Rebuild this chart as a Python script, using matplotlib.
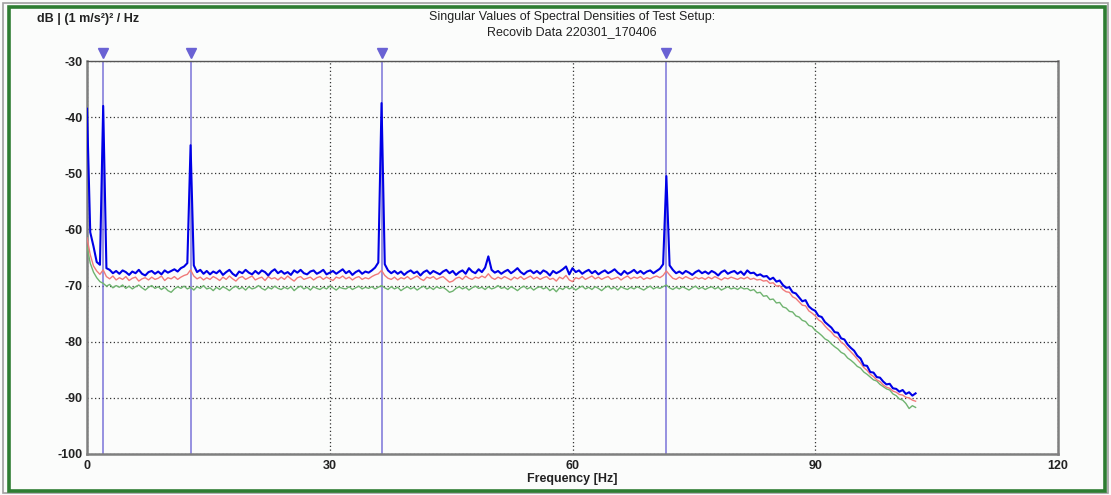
import numpy as np
import matplotlib
matplotlib.use("Agg")
import matplotlib.pyplot as plt
from matplotlib.patches import Rectangle
import matplotlib.transforms as mtransforms

# spectral lines every 0.4 Hz, 0 .. 102.4 Hz
DF = 0.4

blue = [
    -38.5, -60.5, -63.0, -65.8, -66.3, -38.0, -66.9, -67.2, -67.8, -67.4,
    -67.9, -67.3, -67.6, -68.1, -67.5, -67.8, -67.2, -67.9, -68.2, -67.6,
    -67.4, -67.9, -67.5, -68.0, -67.3, -67.7, -67.4, -67.1, -67.5, -66.9,
    -66.6, -66.0, -45.0, -66.4, -67.6, -67.2, -67.9, -67.4, -68.0, -67.5,
    -67.8, -67.3, -68.1, -67.6, -67.2, -67.9, -68.3, -67.5, -67.8, -67.2,
    -67.7, -68.0, -67.4, -67.9, -67.3, -67.6, -68.2, -67.5, -67.1, -67.8,
    -67.4, -67.9, -67.6, -68.1, -67.3, -67.7, -67.2, -67.8, -68.0, -67.5,
    -67.3, -67.9, -67.6, -67.2, -68.0, -67.7, -67.4, -67.9, -67.5, -67.1,
    -67.8, -67.4, -68.1, -67.6, -67.3, -67.9, -67.5, -67.7, -67.3, -66.8,
    -65.9, -37.5, -66.2, -67.3, -67.8, -67.4, -67.9, -67.5, -68.1, -67.6,
    -67.3, -67.8, -67.5, -68.2, -67.6, -67.3, -67.9, -67.4, -67.7, -68.0,
    -67.5, -67.2, -67.8, -67.4, -68.1, -67.6, -67.3, -67.9, -66.9, -67.5,
    -67.8, -67.1, -67.6, -66.8, -64.8, -67.2, -67.7, -67.4, -67.9, -67.5,
    -67.2, -67.8, -67.4, -66.9, -67.6, -68.0, -67.5, -67.3, -67.8, -67.4,
    -67.9, -67.3, -67.6, -68.2, -67.4, -67.8, -67.5, -67.1, -66.6, -68.0,
    -66.9, -67.6, -67.3, -67.9, -67.5, -67.2, -67.8, -67.4, -68.0, -67.6,
    -67.3, -67.8, -67.5, -67.1, -67.7, -68.1, -67.4, -67.9, -67.6, -67.2,
    -67.8, -67.4, -67.9, -67.5, -67.3, -67.8, -67.4, -67.0, -66.2, -50.5,
    -66.4, -67.2, -67.8, -67.5, -67.9, -67.4, -67.7, -68.1, -67.6, -67.3,
    -67.8, -67.5, -67.9, -67.4, -67.7, -68.2, -67.6, -67.3, -67.9, -67.6,
    -67.4, -67.9, -67.5, -68.1, -67.3, -67.8, -67.7, -68.2, -68.0, -68.4,
    -68.3, -68.9, -68.6, -69.3, -69.1, -69.9, -70.4, -70.3, -71.2, -71.4,
    -72.1, -72.8, -72.6, -73.7, -74.2, -74.5, -75.4, -75.6, -76.5, -77.0,
    -77.5, -78.3, -78.4, -79.4, -79.6, -80.5, -81.1, -81.6, -82.5, -83.0,
    -84.2, -84.3, -85.4, -85.5, -86.3, -86.4, -87.1, -87.6, -87.5, -88.3,
    -88.4, -88.9, -88.6, -89.3, -89.0, -89.6, -89.2,
]

red = [
    -61.5, -64.5, -66.5, -67.4, -68.0, -67.2, -68.4, -68.8, -68.3, -69.0,
    -68.6, -68.9, -68.4, -69.1, -68.7, -68.5, -69.2, -68.8, -68.6, -69.0,
    -68.5, -68.9, -68.7, -68.3, -69.1, -68.6, -68.8, -68.4, -68.9, -68.5,
    -68.2, -68.0, -67.2, -68.3, -68.8, -68.5, -69.0, -68.6, -68.9, -68.4,
    -68.7, -69.1, -68.5, -68.9, -68.3, -68.8, -69.2, -68.6, -68.4, -68.9,
    -68.6, -68.3, -69.0, -68.7, -68.5, -69.1, -68.4, -68.8, -68.6, -69.0,
    -68.5, -68.9, -68.3, -68.8, -69.2, -68.6, -68.4, -68.9, -68.7, -68.5,
    -69.0, -68.6, -68.4, -68.9, -68.5, -68.8, -69.1, -68.5, -68.7, -68.3,
    -68.8, -68.5, -69.0, -68.6, -68.4, -68.9, -68.6, -68.8, -68.4, -68.1,
    -67.9, -67.3, -68.2, -68.7, -68.9, -68.5, -69.0, -68.6, -68.8, -68.4,
    -68.9, -68.6, -68.3, -68.8, -69.1, -68.5, -68.7, -68.4, -68.9, -68.6,
    -68.4, -68.9, -69.4, -69.2, -68.7, -68.5, -68.9, -68.3, -68.7, -68.9,
    -68.5, -68.7, -68.3, -68.6, -67.9, -68.6, -68.9, -68.5, -68.8, -68.4,
    -68.7, -69.0, -68.5, -68.8, -68.4, -68.9, -68.6, -68.3, -68.8, -68.5,
    -68.9, -68.6, -68.4, -68.9, -68.7, -69.2, -68.5, -68.8, -68.2, -69.0,
    -69.3, -68.6, -68.8, -68.4, -68.9, -68.6, -68.3, -68.8, -68.5, -68.9,
    -68.6, -68.4, -68.9, -68.7, -68.5, -69.0, -68.6, -68.3, -68.8, -68.5,
    -68.7, -68.4, -68.9, -68.6, -68.8, -68.5, -68.3, -68.6, -68.2, -67.4,
    -68.1, -68.7, -68.9, -68.5, -68.8, -68.4, -68.7, -68.9, -68.5, -68.8,
    -68.6, -68.9, -68.5, -68.8, -68.4, -68.7, -69.0, -68.6, -68.8, -68.5,
    -68.7, -68.9, -68.6, -68.8, -68.5, -68.9, -68.7, -69.0, -68.9, -69.2,
    -69.1, -69.6, -69.5, -70.1, -70.0, -70.7, -71.1, -71.2, -72.0, -72.3,
    -72.9, -73.5, -73.6, -74.5, -74.9, -75.4, -76.1, -76.5, -77.2, -77.8,
    -78.3, -79.0, -79.3, -80.1, -80.5, -81.2, -81.8, -82.4, -83.1, -83.8,
    -84.6, -85.1, -85.8, -86.2, -86.8, -87.1, -87.7, -88.1, -88.3, -88.8,
    -89.0, -89.4, -89.5, -89.9, -90.0, -90.4, -90.6,
]

green = [
    -63.0, -66.0, -67.6, -68.6, -69.3, -69.6, -70.1, -69.8, -70.4, -70.0,
    -70.3, -69.9, -70.5, -70.1, -70.6, -70.2, -69.9, -70.4, -70.8, -70.3,
    -70.0, -70.5, -70.2, -70.7, -70.3, -70.9, -71.2, -70.6, -70.2, -70.5,
    -70.1, -70.6, -70.3, -70.8, -70.2, -70.5, -70.0, -70.6, -70.4, -70.9,
    -70.3, -70.7, -70.2, -70.5, -70.9, -70.4, -70.1, -70.6, -70.3, -70.8,
    -70.2, -70.6, -70.4, -70.0, -70.5, -70.8, -70.3, -70.6, -70.1, -70.5,
    -70.7, -70.3, -70.6, -70.2, -70.9, -70.4, -70.1, -70.6, -70.3, -70.8,
    -70.2, -70.5, -70.7, -70.3, -70.6, -70.1, -70.4, -70.8, -70.3, -70.5,
    -70.6, -70.2, -70.7, -70.4, -70.1, -70.6, -70.3, -70.5, -70.2, -70.6,
    -70.3, -70.0, -70.4, -70.7, -70.2, -70.6, -70.3, -70.9, -70.5, -70.2,
    -70.6, -70.3, -70.8, -70.4, -70.1, -70.6, -70.3, -70.7, -70.2, -70.5,
    -70.3, -70.7, -71.2, -71.0, -70.5, -70.2, -70.6, -70.3, -70.8, -70.4,
    -70.1, -70.5, -70.3, -70.7, -70.2, -70.6, -70.4, -70.0, -70.5, -70.3,
    -70.7, -70.2, -70.5, -70.9, -70.4, -70.1, -70.6, -70.3, -70.8, -70.4,
    -70.2, -70.6, -70.3, -70.9, -70.5, -71.1, -70.4, -70.7, -70.2, -70.6,
    -70.3, -70.8, -70.4, -70.1, -70.6, -70.3, -70.7, -70.2, -70.5, -70.9,
    -70.4, -70.1, -70.6, -70.3, -70.8, -70.2, -70.5, -70.7, -70.3, -70.6,
    -70.2, -70.5, -70.8, -70.4, -70.1, -70.6, -70.3, -70.5, -70.2, -69.9,
    -70.4, -70.7, -70.3, -70.6, -70.2, -70.5, -70.8, -70.4, -70.1, -70.6,
    -70.3, -70.7, -70.4, -70.2, -70.6, -70.3, -70.8, -70.5, -70.2, -70.6,
    -70.4, -70.7, -70.3, -70.6, -70.5, -70.9, -70.7, -71.3, -71.2, -71.9,
    -71.8, -72.5, -72.4, -73.1, -73.0, -73.8, -74.0, -74.6, -74.7, -75.4,
    -75.6, -76.2, -76.4, -77.1, -77.3, -78.0, -78.4, -78.9, -79.5, -79.8,
    -80.4, -80.9, -81.3, -81.9, -82.2, -82.9, -83.3, -83.8, -84.4, -84.7,
    -85.4, -85.8, -86.3, -86.8, -87.0, -87.6, -88.0, -88.4, -88.6, -89.3,
    -89.6, -90.2, -90.4, -91.0, -91.9, -91.4, -91.7,
]

# picked peaks (Hz)
peaks = [2.0, 12.8, 36.4, 71.6]

x_ticks = [0, 30, 60, 90, 120]
y_ticks = [-100, -90, -80, -70, -60, -50, -40, -30]

BLUE  = "#0000e6"
RED   = "#f07a7a"
GREEN = "#6fb36f"
MARK  = "#6a62d4"
BG    = "#fbfcfb"

plt.rcParams["font.family"] = ["Liberation Sans", "DejaVu Sans"]

W, H = 1111, 495
fig = plt.figure(figsize=(W / 100, H / 100), dpi=100, facecolor=BG)

# frame round the whole picture
fig.patches.append(Rectangle((3 / W, 2 / H), (W - 6) / W, (H - 5) / H,
                             transform=fig.transFigure, fill=False,
                             edgecolor="#a0a0a0", linewidth=1.2))
fig.patches.append(Rectangle((9 / W, 4 / H), (W - 15) / W, (H - 11) / H,
                             transform=fig.transFigure, fill=False,
                             edgecolor="#2e7d32", linewidth=2.6))

ax = fig.add_axes([87 / W, 41 / H, (1058 - 87) / W, (454 - 61) / H])
ax.set_facecolor(BG)

freq = DF * np.arange(len(blue))
ax.plot(freq, green, color=GREEN, lw=1.0, zorder=3)
ax.plot(freq, red, color=RED, lw=1.0, zorder=4)
ax.plot(freq, blue, color=BLUE, lw=1.5, zorder=5)

trans = mtransforms.blended_transform_factory(ax.transData, ax.transAxes)
for p in peaks:
    ax.axvline(p, color=MARK, lw=1.3, alpha=0.75, zorder=2)
    ax.plot([p], [1 + 8 / 393], marker="v", ms=7, color=MARK, mec=MARK,
            transform=trans, clip_on=False, zorder=6)

ax.set_xlim(0, 120)
ax.set_ylim(-100, -30)
ax.set_xticks(x_ticks)
ax.set_yticks(y_ticks)
ax.set_xticklabels([str(t) for t in x_ticks])
ax.set_yticklabels([str(t) for t in y_ticks])
ax.tick_params(length=0, labelsize=9, colors="#222222")
ax.tick_params(axis="y", pad=3)
ax.tick_params(axis="x", pad=4)
for lbl in ax.get_xticklabels() + ax.get_yticklabels():
    lbl.set_fontweight("bold")

ax.grid(True, color="#333333", lw=0.9, linestyle=(0, (1, 2)))
ax.set_axisbelow(True)
for side in ["left", "bottom", "right"]:
    ax.spines[side].set_color("#7f7f7f")
    ax.spines[side].set_linewidth(1.8)
ax.spines["top"].set_color("#555555")
ax.spines["top"].set_linewidth(1.0)
ax.spines["top"].set_linestyle((0, (1, 1)))

ax.set_xlabel("Frequency [Hz]", fontsize=9, fontweight="bold",
              color="#222222", labelpad=1)

fig.text(37 / W, 1 - 19 / H, "dB | (1 m/s²)² / Hz", fontsize=9,
         fontweight="bold", color="#222222", va="center", ha="left")
fig.text(572 / W, 1 - 11 / H,
         "Singular Values of Spectral Densities of Test Setup:\nRecovib Data 220301_170406",
         fontsize=9, color="#222222", ha="center", va="top", linespacing=1.35)

fig.savefig("out.png", dpi=100, facecolor=BG)
